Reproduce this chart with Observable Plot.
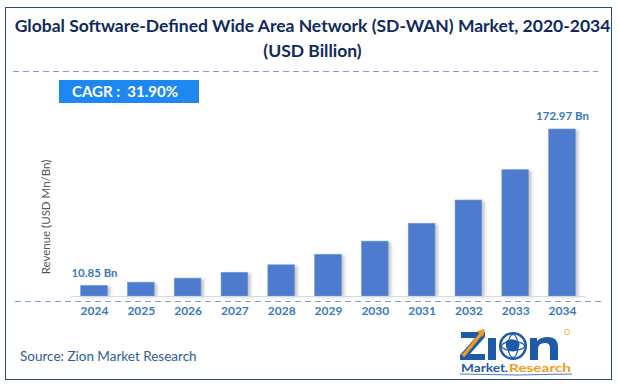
<!DOCTYPE html>
<html>
<head>
<meta charset="utf-8">
<script src="https://cdn.jsdelivr.net/npm/d3@7"></script>
<script src="https://cdn.jsdelivr.net/npm/@observablehq/plot@0.6"></script>
<style>
  html, body { margin: 0; padding: 0; background: #fff; }
  #wrap { position: relative; width: 619px; height: 386px; overflow: hidden; font-family: Lato, "Open Sans", sans-serif; }
  #frame { position: absolute; left: 5px; top: 7px; width: 607px; height: 373px; border: 1.5px solid #2a4a7a; box-sizing: border-box; }
  .title { position: absolute; left: 0; width: 625px; text-align: center; font-weight: 700; color: #0f2a5e; font-size: 17.5px; white-space: nowrap; }
  .dash { position: absolute; height: 1.3px; background: repeating-linear-gradient(to right, #7b9fd4 0 6px, transparent 6px 10px); }
  #cagr { position: absolute; left: 59px; top: 80px; width: 140px; height: 23px; background: #1e88f0; color: #fff; font-weight: 700; font-size: 15px; line-height: 23px; box-sizing: border-box; padding-left: 13px; white-space: nowrap; }
  #ylab { position: absolute; left: 45px; top: 217px; transform: translate(-50%, -50%) rotate(-90deg); font-size: 11.5px; color: #555; white-space: nowrap; }
  #source { position: absolute; left: 20px; top: 348px; font-size: 13.5px; color: #2e5e96; white-space: nowrap; }
  #logo { position: absolute; left: 458px; top: 326px; width: 120px; height: 52px; }
  #chart { position: absolute; left: 0; top: 0; }
</style>
</head>
<body>
<div id="wrap">
  <div id="chart"></div>
  <div id="frame"></div>
  <div class="title" id="t1" style="top:15px;">Global Software-Defined Wide Area Network (SD-WAN) Market, 2020-2034</div>
  <div class="title" id="t2" style="top:40px;">(USD Billion)</div>
  <div class="dash" style="left:13px; top:71px; width:585px;"></div>
  <div id="cagr">CAGR :&nbsp; 31.90%</div>
  <div id="ylab">Revenue (USD Mn/Bn)</div>
  <div class="dash" style="left:15px; top:300.5px; width:588px;"></div>
  <div id="source">Source: Zion Market Research</div>
  <div id="logo">
    <svg width="120" height="52" viewBox="0 0 120 52">
      <path d="M3 6 H27 V11 L12 28 H27 V34 H2 V29 L17 12 H3 Z" fill="#1d5aa8"/>
      <path d="M5 30 L23 8" stroke="#f39a1e" stroke-width="3.5" fill="none"/>
      <path d="M19 5 L27 3 L25 11 Z" fill="#f39a1e"/>
      <rect x="30" y="12" width="8" height="22" fill="#1d5aa8"/>
      <circle cx="55" cy="20" r="14" fill="#1d5aa8"/>
      <circle cx="55" cy="20" r="11.5" fill="#fff"/>
      <ellipse cx="55" cy="20" rx="11.5" ry="4.5" fill="none" stroke="#1d5aa8" stroke-width="1.2"/>
      <ellipse cx="55" cy="20" rx="5" ry="11.5" fill="none" stroke="#1d5aa8" stroke-width="1.2"/>
      <path d="M48 15 q7 -4 13 1 q2 6 -4 9 q-6 2 -9 -4 z" fill="#1d5aa8"/>
      <path d="M72 34 V12 H79 V15 Q83 11 90 11 Q100 11 100 21 V34 H92 V22 Q92 17 87 17 Q80 17 80 23 V34 Z" fill="#1d5aa8"/>
      <circle cx="109" cy="6" r="2.5" fill="none" stroke="#f39a1e" stroke-width="0.8"/>
      <text x="3" y="46" font-family="Lato, sans-serif" font-weight="700" font-size="12" fill="#1d5aa8" textLength="44" lengthAdjust="spacingAndGlyphs">Market</text>
      <text x="47" y="46" font-family="Lato, sans-serif" font-weight="700" font-size="12" fill="#1d5aa8">.</text>
      <text x="51" y="46" font-family="Lato, sans-serif" font-weight="700" font-size="12" fill="#f39a1e" textLength="62" lengthAdjust="spacingAndGlyphs">Research</text>
      <path d="M2 48 Q58 50 114 48" stroke="#1d5aa8" stroke-width="0.8" fill="none"/>
    </svg>
  </div>
</div>
<script>
const years = ["2024","2025","2026","2027","2028","2029","2030","2031","2032","2033","2034"];
const revenue = [10.85, 14.3, 18.5, 24.5, 32.3, 43.2, 56.8, 75.3, 99.4, 130.8, 172.97];
const labelTexts = ["10.85 Bn", "", "", "", "", "", "", "", "", "", "172.97 Bn"];

const data = years.map((y, i) => ({year: y, value: revenue[i], label: labelTexts[i]}));

const plot = Plot.plot({
  width: 619,
  height: 320,
  marginLeft: 70.6,
  marginRight: 33.6,
  marginTop: 129,
  marginBottom: 24,
  style: {background: "transparent", fontFamily: "Lato, 'Open Sans', sans-serif"},
  x: {domain: years, paddingInner: 0.43, paddingOuter: 0.215, round: false, label: null},
  y: {domain: [0, d3.max(revenue)], axis: null},
  marks: [
    Plot.barY(data, {x: "year", y: "value", fill: "#9a9a9a", fillOpacity: 0.55, dx: 3, dy: 1}),
    Plot.barY(data, {x: "year", y: "value", fill: "#4d7ccf", stroke: "#6f96da", strokeWidth: 0.6}),
    Plot.ruleY([0], {stroke: "#d9d9d9", strokeWidth: 1.2}),
    Plot.text(data.filter(d => d.label), {x: "year", y: "value", text: "label", dy: -13, fill: "#3b78c0", fontWeight: 700, fontSize: 11.5}),
    Plot.axisX({tickSize: 0, tickPadding: 10, fontSize: 12, fontWeight: 700, fill: "#3b78c0", label: null})
  ]
});
document.getElementById("chart").appendChild(plot);

// soft blur for the bar shadows
const svg = d3.select(plot);
const defs = svg.insert("defs", ":first-child");
defs.append("filter").attr("id", "shadowBlur").attr("x", "-50%").attr("y", "-10%").attr("width", "200%").attr("height", "120%")
  .append("feGaussianBlur").attr("stdDeviation", 1.6);
svg.select('g[aria-label="bar"]').attr("filter", "url(#shadowBlur)");
</script>
</body>
</html>
